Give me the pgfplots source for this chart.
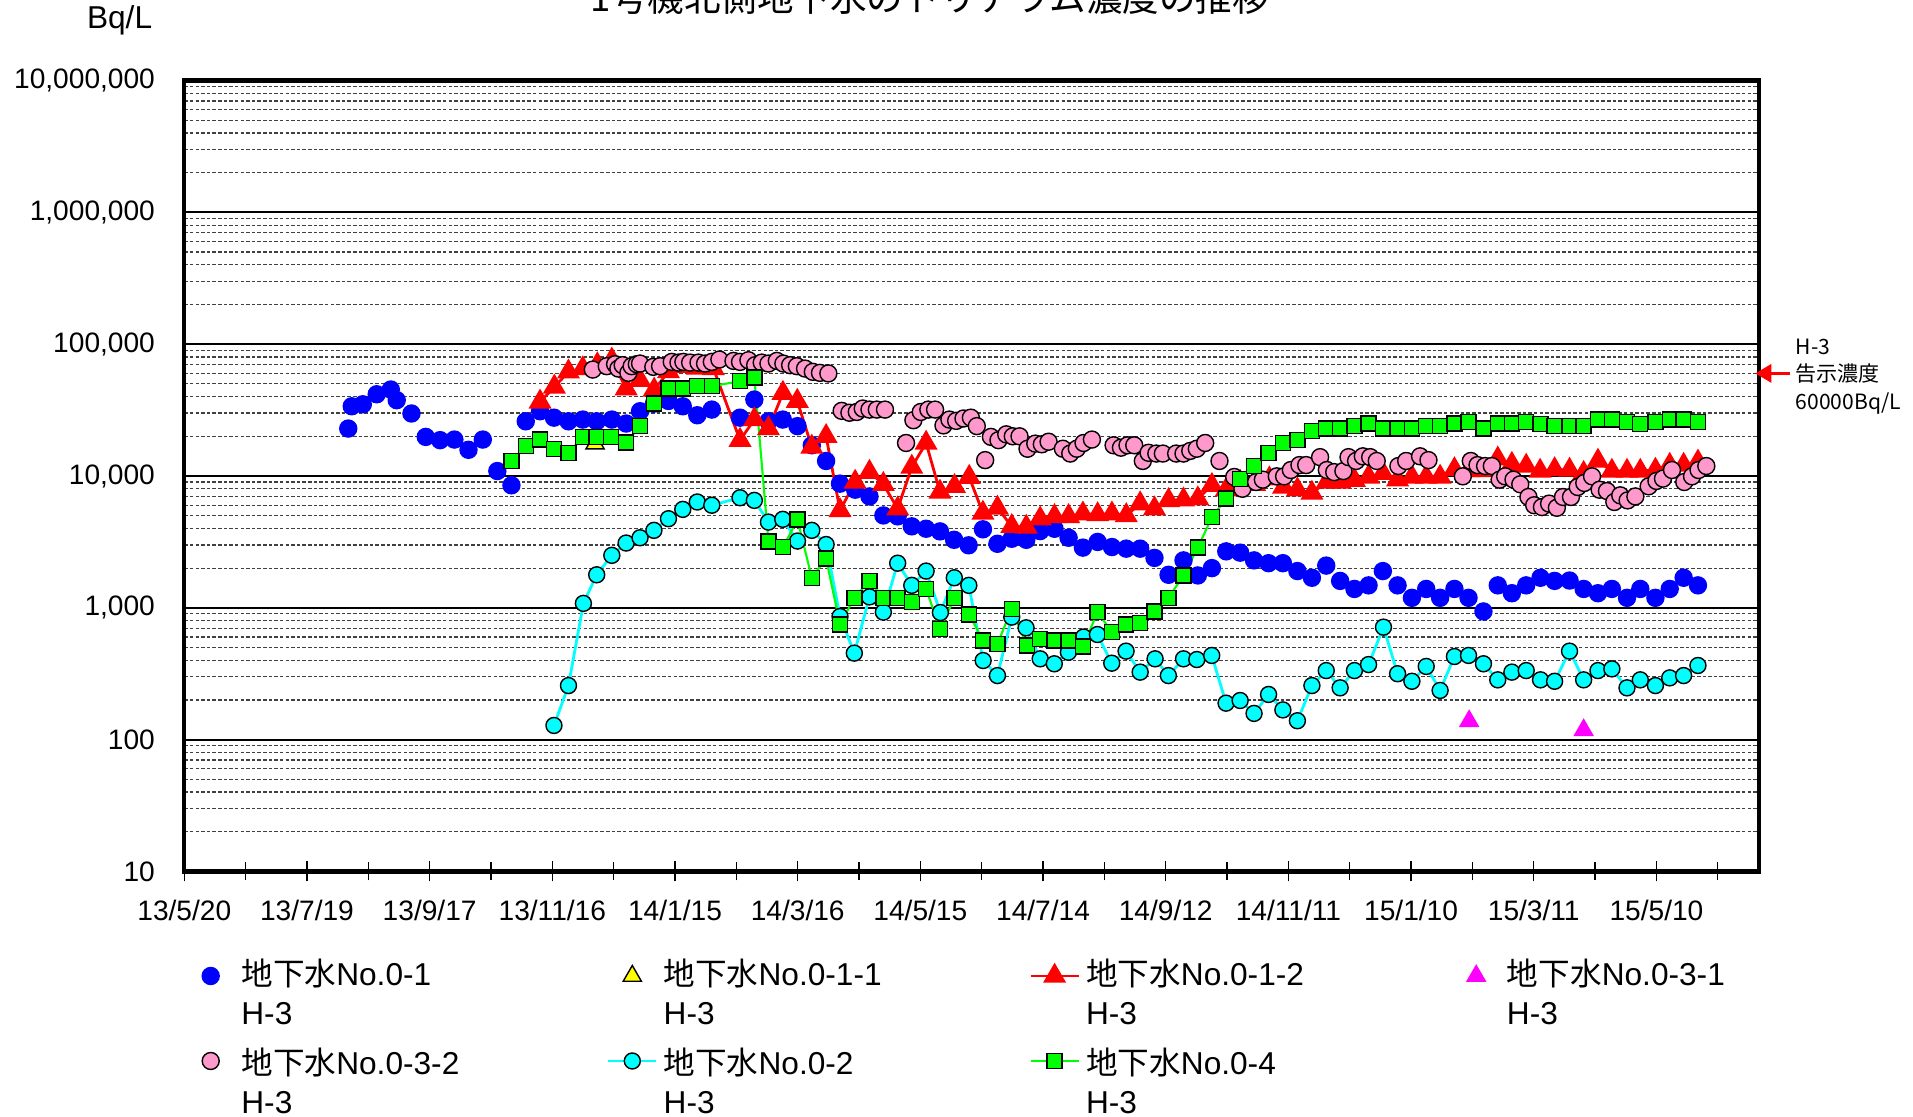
\documentclass[border=0pt]{standalone}
\usepackage{fontspec}
\setmainfont{Liberation Sans}
\newfontfamily\jp{Noto Sans CJK JP}
\usepackage{pgfplots}
\pgfplotsset{compat=1.18}
\usetikzlibrary{arrows.meta}

\definecolor{c01}{RGB}{0,0,255}
\definecolor{c011}{RGB}{255,255,0}
\definecolor{c012}{RGB}{255,0,0}
\definecolor{c031}{RGB}{255,0,255}
\definecolor{c032}{RGB}{255,153,204}
\definecolor{c02}{RGB}{0,255,255}
\definecolor{c04}{RGB}{0,255,0}

\pgfplotsset{
  s01/.style={only marks, mark=*, color=c01, mark size=0.85mm},
  s011/.style={only marks, mark=triangle*, mark size=1.05mm,
    mark options={fill=c011, draw=black, line width=0.4pt}},
  s012/.style={color=c012, line width=0.8pt, mark=triangle*, mark size=1.05mm,
    mark options={solid, fill=c012, draw=c012}},
  s031/.style={only marks, mark=triangle*, color=c031, mark size=1.05mm},
  s032/.style={only marks, mark=*, mark size=0.85mm,
    mark options={fill=c032, draw=black, line width=0.4pt}},
  s02/.style={color=c02, line width=0.8pt, mark=*, mark size=0.8mm,
    mark options={solid, fill=c02, draw=black, line width=0.4pt}},
  s04/.style={color=c04, line width=0.6pt, mark=square*, mark size=0.75mm,
    mark options={solid, fill=c04, draw=black, line width=0.4pt}},
  % invisible image that still keeps the column width
  noimg/.style={color=white, draw opacity=0},
}

\newcommand{\gw}[1]{{\jp 地下水}No.#1}
\newcommand{\hA}{\raisebox{0.44mm}{H-3}}
\newcommand{\hB}{H-3}

\begin{document}
\begin{tikzpicture}
\begin{axis}[
    at={(0,0)}, anchor=south west,
    scale only axis,
    width=157.44mm, height=79.08mm,
    xmin=0, xmax=770,
    ymode=log, ymin=10, ymax=1e7,
    xtick={0,60,...,720},
    xticklabels={13/5/20,13/7/19,13/9/17,13/11/16,14/1/15,14/3/16,14/5/15,
      14/7/14,14/9/12,14/11/11,15/1/10,15/3/11,15/5/10},
    minor xtick={30,90,...,750},
    xtick pos=bottom, ytick pos=left,
    tick align=center,
    major tick length=2mm, minor tick length=1.8mm,
    x tick style={black, line width=0.4pt},
    y tick style={draw=none},
    ytick={10,100,1000,10000,100000,1000000,10000000},
    yticklabels={10,100,{1,000},{10,000},{100,000},{1,000,000},{10,000,000}},
    minor ytick={20,30,40,50,60,70,80,90,
      200,300,400,500,600,700,800,900,
      2000,3000,4000,5000,6000,7000,8000,9000,
      20000,30000,40000,50000,60000,70000,80000,90000,
      200000,300000,400000,500000,600000,700000,800000,900000,
      2000000,3000000,4000000,5000000,6000000,7000000,8000000,9000000},
    ymajorgrids, yminorgrids,
    major grid style={black, line width=0.55pt},
    minor grid style={black!75, line width=0.35pt, dash pattern=on 1pt off 0.6pt},
    axis line style={line width=1.2pt},
    tick label style={font=\fontsize{8pt}{10pt}\selectfont},
    xticklabel style={yshift=-0.65mm},
    yticklabel style={xshift=-0.7mm},
    legend image code/.code={%
      \draw[mark repeat=2,mark phase=2,#1] plot coordinates {(0mm,0mm) (2.4mm,0mm) (4.8mm,0mm)};},
    legend columns=4,
    legend cell align=left,
    legend style={at={(0,0)}, anchor=north west, xshift=0.17mm, yshift=-8.66mm,
      draw=none, fill=none, inner sep=0pt, outer sep=0pt,
      font=\fontsize{9pt}{11pt}\selectfont, row sep=0.65mm,
      nodes={inner xsep=0.6mm, inner ysep=0.2mm, text height=2.6mm,
        text depth=0.6mm, text width=35.95mm, align=left}},
]

% No.0-1
\addplot[s01, forget plot] table {
80.2 22900
81.9 33800
87.3 35000
94.1 41700
101.0 45300
103.9 37600
111.1 29800
118.1 19800
125.1 18700
132.1 18900
139.0 15800
146.0 18900
153.1 10900
160.0 8500
167.0 26000
174.0 31000
180.8 27700
187.9 26000
194.9 26800
201.7 26000
209.1 26800
216.1 25000
222.9 31000
229.7 35400
236.8 37100
243.8 33800
250.9 28900
258.0 31900
271.8 27700
278.8 38000
285.7 26000
292.7 26800
299.9 23900
306.9 17100
313.9 13000
320.7 8750
328.1 7870
335.1 7000
341.9 5020
348.9 4940
355.8 4150
362.8 3980
369.6 3800
376.5 3280
383.6 2980
390.6 3940
397.7 3060
404.7 3340
411.8 3280
418.6 3820
425.6 3980
432.5 3400
439.5 2860
446.7 3160
453.7 2890
460.7 2810
467.5 2810
474.5 2390
481.4 1780
488.7 2290
495.7 1760
502.6 2000
509.6 2680
516.4 2620
523.2 2290
530.3 2180
537.3 2180
544.4 1900
551.5 1690
558.5 2090
565.3 1600
572.3 1390
579.2 1480
586.2 1900
593.4 1480
600.4 1190
607.4 1390
614.2 1190
621.2 1390
628.1 1190
635.4 938
642.4 1480
649.3 1290
656.3 1480
663.3 1690
670.2 1600
677.5 1610
684.4 1390
691.4 1290
698.2 1390
705.6 1190
712.1 1390
719.5 1190
726.5 1390
733.3 1690
740.3 1480
};

% No.0-1-1
\addplot[s011, forget plot] table {
200.9 17600
};

% No.0-1-2
\addplot[s012, forget plot] table {
174.0 36500
181.0 47400
187.9 61700
194.9 65300
202.0 70000
209.1 76000
216.1 46000
222.9 53300
229.8 45000
236.8 62000
243.8 68000
250.9 66000
258.8 65300
271.8 18700
278.8 26800
285.7 22900
292.8 42500
299.8 37000
306.9 16600
313.9 20000
320.7 5480
328.1 9000
335.1 10700
341.9 8650
348.9 5650
355.8 11700
362.8 17800
369.6 7560
376.7 8350
383.9 9800
390.6 5240
397.7 5720
404.7 4150
411.8 4100
418.6 4740
425.6 4940
432.5 4940
439.5 5170
446.7 5100
453.7 5170
460.7 5020
467.5 6170
474.5 5650
481.4 6530
488.7 6600
495.7 6730
502.6 8500
509.6 7870
516.4 9000
523.5 8650
530.7 9550
537.6 8250
544.4 7870
551.5 7430
558.8 9000
565.3 9000
572.3 9270
579.2 9830
586.2 10500
593.4 9380
600.4 9830
607.4 9830
614.2 9830
621.2 11200
628.1 11000
635.4 11000
642.4 13500
649.3 12300
656.3 11900
663.1 10900
670.2 11200
677.5 11100
684.4 10500
691.4 13000
698.2 10900
705.6 10900
712.1 10900
719.5 11100
726.5 12100
733.3 12100
740.3 12800
};

% No.0-3-1
\addplot[s031, forget plot] table {
628.4 138
684.4 118
};

% No.0-3-2
\addplot[s032, forget plot] table {
199.8 64200
206.6 68100
210.7 70500
212.3 65300
214.4 69300
217.2 60600
218.8 68100
221.3 70500
222.9 71300
229.4 67300
232.7 68100
238.4 73400
241.7 72500
244.1 73400
247.4 72500
251.5 72500
254.7 71300
258.0 73400
261.7 76500
268.6 74700
271.8 73400
275.9 75600
279.2 69300
282.4 72500
285.7 71300
289.8 74700
293.0 71300
296.3 69300
299.6 68100
303.6 65300
307.4 61700
310.9 60600
315.0 60000
321.5 31200
325.3 30200
328.9 30600
331.8 32500
335.1 31900
338.7 31900
342.7 31900
353.0 17800
356.6 26500
360.2 30600
363.9 31900
367.2 31900
371.3 24200
374.2 26800
377.5 26200
381.1 27300
384.7 27700
387.6 23900
391.7 13200
394.5 19800
398.2 18700
402.0 20700
405.2 20000
408.5 20000
412.4 16100
416.2 17600
419.4 17400
422.7 18200
429.7 16100
433.3 14800
436.5 16100
439.8 17800
443.9 18900
454.5 17100
458.1 16400
461.3 17100
464.6 17100
468.8 13000
471.6 15000
475.4 14800
478.6 14800
485.1 14800
488.7 14800
492.0 15500
495.2 16100
499.3 17800
506.3 13000
513.5 9830
517.5 8000
524.2 9000
527.5 9380
534.3 9940
537.9 9940
541.2 11100
545.4 12100
548.7 12100
555.5 13900
558.8 11100
562.4 10700
566.9 10900
569.4 13900
573.1 13000
576.4 14100
580.0 13900
583.2 13000
593.8 11900
597.6 13000
604.4 14100
608.5 13200
625.3 9940
629.2 13000
632.5 12100
636.2 11900
639.5 11900
643.3 9380
646.0 9940
650.1 9380
653.4 8650
657.4 6930
660.2 6000
664.0 5810
667.5 6170
671.3 5740
674.3 6930
678.2 6930
681.5 8250
684.7 8850
688.5 9940
692.2 7870
695.8 7690
699.4 6350
702.3 7130
705.9 6530
709.7 7000
716.2 8350
720.0 9170
723.2 9550
727.6 11100
733.6 9000
737.4 9940
740.6 11100
744.4 11900
};

% No.0-2
\addplot[s02, forget plot] table {
180.8 128
187.9 257
195.2 1080
201.7 1780
209.1 2500
216.1 3100
222.9 3400
229.7 3870
236.8 4740
243.8 5580
250.9 6350
258.0 6000
271.8 6840
278.8 6530
285.7 4470
292.7 4690
299.9 3210
306.9 3870
313.9 3020
320.7 859
327.7 453
335.1 1210
341.9 927
348.9 2180
355.8 1480
362.8 1900
369.8 920
376.6 1690
383.7 1480
390.7 398
397.7 306
404.7 850
411.7 705
418.6 410
425.5 376
432.4 460
439.8 600
446.6 627
453.6 380
460.6 469
467.5 325
474.8 410
481.3 306
488.7 410
495.2 405
502.5 435
509.5 189
516.4 198
523.2 158
530.3 220
537.3 168
544.4 139
551.5 257
558.5 334
565.3 247
572.3 334
579.2 371
586.5 713
593.4 316
600.4 277
607.4 359
614.2 236
621.2 427
628.1 435
635.4 376
642.4 284
649.3 325
656.3 334
663.3 284
670.2 277
677.5 469
684.4 284
691.4 334
698.2 344
705.6 247
712.1 284
719.5 257
726.5 294
733.3 306
740.3 365
};

% No.0-4
\addplot[s04, forget plot] table {
160.0 13000
167.1 16900
174.0 18900
180.9 16000
187.9 14900
194.9 19800
201.7 19800
208.7 19800
216.1 17900
222.9 23900
229.8 35500
236.8 46000
243.9 46000
250.8 48000
258.0 48000
271.8 52400
278.8 55800
285.7 3190
292.8 2890
299.9 4660
306.9 1690
313.9 2360
320.7 747
327.7 1190
335.1 1600
341.9 1190
348.9 1190
355.8 1110
362.8 1390
369.6 693
376.7 1190
383.9 890
390.6 565
397.7 533
404.7 983
412.1 517
418.6 581
425.6 565
432.5 565
439.5 509
446.7 927
453.7 653
460.7 747
467.5 765
474.5 938
481.4 1190
488.7 1760
495.7 2860
502.6 4880
509.6 6730
516.4 9500
523.2 11900
530.3 15000
537.3 17800
544.4 18700
551.5 22000
558.5 22900
565.3 22900
572.3 23900
579.2 25000
586.2 22900
593.4 22900
600.4 22900
607.4 23900
614.2 23900
621.2 25000
628.1 25700
635.4 22900
642.4 25000
649.3 25000
656.3 25700
663.2 24700
670.2 23900
677.5 23900
684.4 23900
691.4 26800
698.2 26800
705.6 25700
712.1 24700
719.5 25700
726.5 26800
733.3 26800
740.3 25700
};

% legend, row by row
\addlegendimage{s01, draw=none}\addlegendentry{\gw{0-1}}
\addlegendimage{s011, draw=none}\addlegendentry{\gw{0-1-1}}
\addlegendimage{s012}\addlegendentry{\gw{0-1-2}}
\addlegendimage{s031, draw=none}\addlegendentry{\gw{0-3-1}}
\addlegendimage{noimg}\addlegendentry{\hA}
\addlegendimage{noimg}\addlegendentry{\hA}
\addlegendimage{noimg}\addlegendentry{\hA}
\addlegendimage{noimg}\addlegendentry{\hA}
\addlegendimage{s032, draw=none}\addlegendentry{\raisebox{-0.31mm}{\gw{0-3-2}}}
\addlegendimage{s02}\addlegendentry{\raisebox{-0.31mm}{\gw{0-2}}}
\addlegendimage{s04}\addlegendentry{\raisebox{-0.31mm}{\gw{0-4}}}
\addlegendimage{noimg}\addlegendentry{}
\addlegendimage{noimg}\addlegendentry{\hB}
\addlegendimage{noimg}\addlegendentry{\hB}
\addlegendimage{noimg}\addlegendentry{\hB}
\end{axis}

% title (cut by the page edge as in the source), unit, limit note
\node[anchor=base, font=\jp\fontsize{10.4pt}{12pt}\selectfont] at (74.56mm,85.94mm)
  {1号機北側地下水のトリチウム濃度の推移};
\node[anchor=base, font=\fontsize{9pt}{11pt}\selectfont] at (-6.47mm,84.31mm) {Bq/L};
\draw[c012, line width=0.95pt, -{Triangle[length=1.6mm, width=1.8mm]}]
  (160.6mm,49.8mm) -- (157.1mm,49.8mm);
\begin{scope}[font=\jp\fontsize{6pt}{8pt}\selectfont, inner sep=0pt]
  \node[anchor=base west] at (161.07mm,51.67mm) {H-3};
  \node[anchor=base west] at (161.07mm,48.94mm) {告示濃度};
  \node[anchor=base west] at (161.07mm,46.14mm) {60000Bq/L};
\end{scope}

\pgfresetboundingbox
\useasboundingbox (-18.43mm,-24.56mm) rectangle (172.87mm,87.14mm);
\end{tikzpicture}
\end{document}
